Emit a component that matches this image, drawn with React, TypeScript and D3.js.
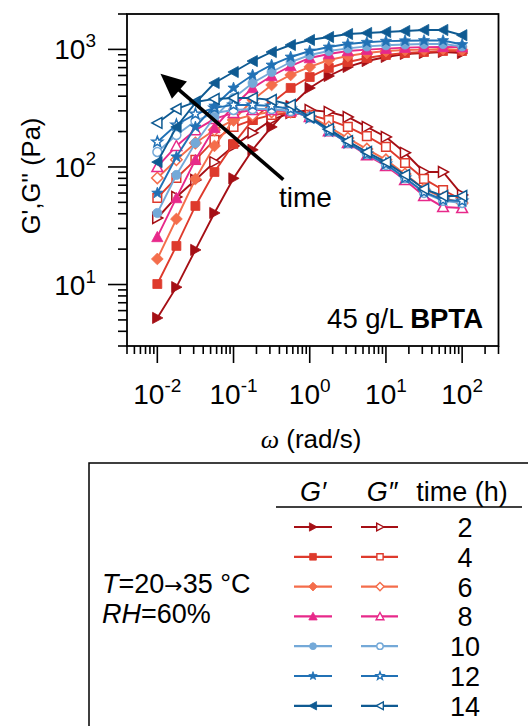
import React from 'react';
import * as d3 from 'd3';

// angular frequency (rad/s)
const omega = [0.01, 0.0178, 0.0316, 0.0562, 0.1, 0.178, 0.316, 0.562, 1, 1.78, 3.16, 5.62, 10, 17.8, 31.6, 56.2, 100];
const timesH = [2, 4, 6, 8, 10, 12, 14];
const seriesColors = ['#a50f15', '#de3a2c', '#f46d4b', '#e7298a', '#74a9d8', '#2171b5', '#0e5a92'];
const markerShapes = ['triRight', 'square', 'diamond', 'triUp', 'circle', 'star', 'triLeft'];

// storage modulus G' (Pa)
const gp2 = [5.2, 9.5, 19.7, 40.6, 80, 140, 219, 330, 470, 594, 709, 796, 862, 914, 931, 950, 931];
const gp4 = [10.1, 21.3, 46.6, 90.6, 157, 251, 350, 470, 582, 695, 781, 845, 896, 931, 950, 969, 969];
const gp6 = [16.5, 36.1, 79, 151, 251, 371, 498, 606, 709, 812, 878, 931, 969, 988, 995, 1008, 990];
const gp8 = [25.4, 54.5, 115, 215, 330, 470, 594, 722, 845, 914, 969, 995, 1015, 1035, 1045, 1050, 1045];
const gp10 = [40.6, 85.5, 160, 266, 386, 518, 642, 781, 896, 969, 1020, 1060, 1085, 1100, 1110, 1110, 1060];
const gp12 = [60, 122, 219, 330, 470, 606, 737, 862, 969, 1048, 1111, 1150, 1175, 1185, 1190, 1190, 1100];
const gp14 = [110, 219, 350, 518, 642, 796, 950, 1090, 1202, 1274, 1352, 1379, 1406, 1433, 1462, 1462, 1320];

// loss modulus G'' (Pa)
const gpp2 = [36.8, 55.6, 77.5, 110, 151, 195, 251, 288, 305, 294, 266, 219, 180, 132, 90.7, 90.7, 57.8];
const gpp4 = [54.5, 80.6, 115, 170, 219, 251, 277, 288, 277, 251, 219, 183, 148, 108, 79.1, 63.7, 52.4];
const gpp6 = [80.6, 115, 160, 206, 251, 277, 294, 294, 272, 219, 176, 142, 115, 87.2, 65, 54.5, 49.4];
const gpp8 = [100, 151, 206, 256, 288, 305, 305, 299, 266, 202, 160, 126, 102, 77.5, 56.7, 45.7, 44.8];
const gpp10 = [134, 187, 246, 288, 305, 311, 311, 299, 266, 202, 160, 129, 104, 80.6, 60.1, 51.4, 49.4];
const gpp12 = [163, 228, 282, 318, 337, 337, 330, 311, 261, 202, 160, 129, 106, 80.6, 61.3, 52.4, 51.4];
const gpp14 = [237, 311, 357, 379, 386, 386, 371, 337, 266, 210, 166, 134, 110, 85.5, 65, 56.7, 56.7];

const gPrimeSets = [gp2, gp4, gp6, gp8, gp10, gp12, gp14];
const gDoubleSets = [gpp2, gpp4, gpp6, gpp8, gpp10, gpp12, gpp14];

const xDomain = [0.004, 300];
const yDomain = [3, 2000];
const xMajorExps = [-2, -1, 0, 1, 2];
const yMajorExps = [1, 2, 3];

// annotation arrow (data coordinates: [omega, modulus])
const arrowFrom = [0.45, 78];
const arrowTo = [0.011, 620];

const FONT = "'Liberation Sans', Arial, sans-serif";

function markerPath(shape: string, r: number): string {
  switch (shape) {
    case 'triUp':
      return `M0,${-r}L${r},${r * 0.85}L${-r},${r * 0.85}Z`;
    case 'triRight':
      return `M${r},0L${-r * 0.85},${-r}L${-r * 0.85},${r}Z`;
    case 'triLeft':
      return `M${-r},0L${r * 0.85},${-r}L${r * 0.85},${r}Z`;
    case 'square': {
      const s = r * 0.8;
      return `M${-s},${-s}L${s},${-s}L${s},${s}L${-s},${s}Z`;
    }
    case 'diamond': {
      const s = r * 1.05;
      return `M0,${-s}L${s},0L0,${s}L${-s},0Z`;
    }
    case 'circle': {
      const c = r * 0.82;
      return `M${c},0A${c},${c} 0 1,1 ${-c},0A${c},${c} 0 1,1 ${c},0Z`;
    }
    case 'star': {
      const outer = r * 1.05;
      const inner = outer * 0.42;
      let p = '';
      for (let k = 0; k < 10; k++) {
        const rad = k % 2 === 0 ? outer : inner;
        const a = -Math.PI / 2 + (k * Math.PI) / 5;
        p += (k === 0 ? 'M' : 'L') + (rad * Math.cos(a)).toFixed(2) + ',' + (rad * Math.sin(a)).toFixed(2);
      }
      return p + 'Z';
    }
  }
  return '';
}

export default function App() {
  const W = 528;
  const H = 726;
  const left = 127, right = 498.5, top = 14, bottom = 346;
  const x = d3.scaleLog().domain(xDomain).range([left, right]);
  const y = d3.scaleLog().domain(yDomain).range([bottom, top]);

  const xTicks = x.ticks();
  const yTicks = y.ticks();
  const isMajor = (v: number) => Math.abs(Math.log10(v) - Math.round(Math.log10(v))) < 1e-6;

  const line = d3
    .line<number>()
    .x((_, i) => x(omega[i]))
    .y((d) => y(d));

  // arrow geometry
  const ax0 = x(arrowFrom[0]), ay0 = y(arrowFrom[1]);
  const ax1 = x(arrowTo[0]), ay1 = y(arrowTo[1]);
  const dx = ax1 - ax0, dy = ay1 - ay0;
  const len = Math.hypot(dx, dy);
  const ux = dx / len, uy = dy / len;
  const headL = 25, headW = 11.5;
  const bx = ax1 - ux * headL, by = ay1 - uy * headL;
  const px = -uy, py = ux;

  const rowY0 = 527;
  const rowStep = 29.8;

  return (
    <svg
      width={W}
      height={H}
      viewBox={`0 0 ${W} ${H}`}
      style={{ position: 'absolute', left: 0, top: 0, background: '#fff' }}
      fontFamily={FONT}
    >
      <rect x={0} y={0} width={W} height={H} fill="#fff" />

      {/* series */}
      {timesH.map((t, si) => {
        const col = seriesColors[si];
        const shp = markerShapes[si];
        const gp = gPrimeSets[si];
        const gpp = gDoubleSets[si];
        return (
          <g key={t}>
            <path d={line(gpp) || ''} fill="none" stroke={col} strokeWidth={1.9} />
            {gpp.map((v, i) => (
              <path
                key={'o' + i}
                d={markerPath(shp, 5.4)}
                transform={`translate(${x(omega[i])},${y(v)})`}
                fill="#fff"
                stroke={col}
                strokeWidth={1.5}
              />
            ))}
            <path d={line(gp) || ''} fill="none" stroke={col} strokeWidth={1.9} />
            {gp.map((v, i) => (
              <path
                key={'f' + i}
                d={markerPath(shp, 5.6)}
                transform={`translate(${x(omega[i])},${y(v)})`}
                fill={col}
                stroke={col}
                strokeWidth={0.8}
              />
            ))}
          </g>
        );
      })}

      {/* arrow */}
      <line x1={ax0} y1={ay0} x2={bx + ux * 2} y2={by + uy * 2} stroke="#000" strokeWidth={3.6} />
      <path
        d={`M${ax1},${ay1}L${bx + px * headW},${by + py * headW}L${bx - px * headW},${by - py * headW}Z`}
        fill="#000"
      />
      <text x={279} y={207} fontSize={28} fill="#000">time</text>

      <text x={483} y={328} fontSize={27.5} textAnchor="end" fill="#000">
        45 g/L <tspan fontWeight="bold">BPTA</tspan>
      </text>

      {/* frame */}
      <rect x={left} y={top} width={right - left} height={bottom - top} fill="none" stroke="#000" strokeWidth={1.8} />

      {/* ticks */}
      {xTicks.map((v, i) => (
        <line
          key={'xt' + i}
          x1={x(v)}
          x2={x(v)}
          y1={bottom}
          y2={bottom + (isMajor(v) ? 17 : 8)}
          stroke="#000"
          strokeWidth={1.6}
        />
      ))}
      {yTicks.map((v, i) => (
        <line
          key={'yt' + i}
          x1={left}
          x2={left - (isMajor(v) ? 19 : 9)}
          y1={y(v)}
          y2={y(v)}
          stroke="#000"
          strokeWidth={1.6}
        />
      ))}
      {xMajorExps.map((e) => (
        <text key={'xl' + e} x={x(Math.pow(10, e))} y={404} fontSize={28} textAnchor="middle" fill="#000">
          10<tspan dy={-12} fontSize={19}>{e}</tspan>
        </text>
      ))}
      {yMajorExps.map((e) => (
        <text key={'yl' + e} x={96} y={y(Math.pow(10, e)) + 10} fontSize={28} textAnchor="end" fill="#000">
          10<tspan dy={-12} fontSize={19}>{e}</tspan>
        </text>
      ))}

      {/* axis titles */}
      <text x={311} y={448} fontSize={26} textAnchor="middle" fill="#000">
        <tspan fontFamily="'Liberation Serif', serif" fontStyle="italic">ω</tspan> (rad/s)
      </text>
      <text
        transform={`translate(40,176) rotate(-90)`}
        fontSize={25.5}
        textAnchor="middle"
        fill="#000"
      >
        G',G'' (Pa)
      </text>

      {/* legend */}
      <rect x={89} y={463} width={470} height={300} fill="none" stroke="#000" strokeWidth={1.5} />
      <text x={313} y={501} fontSize={27} textAnchor="middle" fontStyle="italic">G′</text>
      <text x={382} y={501} fontSize={27} textAnchor="middle" fontStyle="italic">G″</text>
      <text x={462} y={501} fontSize={27} textAnchor="middle">time (h)</text>
      <line x1={276} x2={522} y1={507} y2={507} stroke="#000" strokeWidth={1.5} />
      {timesH.map((t, si) => {
        const cy = rowY0 + si * rowStep;
        const col = seriesColors[si];
        const shp = markerShapes[si];
        return (
          <g key={'lg' + t}>
            <line x1={294} x2={332} y1={cy} y2={cy} stroke={col} strokeWidth={2.2} />
            <path d={markerPath(shp, 4.2)} transform={`translate(313,${cy})`} fill={col} stroke={col} strokeWidth={0.8} />
            <line x1={361} x2={398} y1={cy} y2={cy} stroke={col} strokeWidth={2.2} />
            <path d={markerPath(shp, 3.9)} transform={`translate(380,${cy})`} fill="#fff" stroke={col} strokeWidth={1.4} />
            <text x={465} y={cy + 10} fontSize={27} textAnchor="middle">{t}</text>
          </g>
        );
      })}
      <text x={102} y={593} fontSize={27}>
        <tspan fontStyle="italic">T</tspan>=20<tspan fontFamily="'DejaVu Sans', sans-serif" fontSize={22}>→</tspan>35 °C
      </text>
      <text x={102} y={623} fontSize={27}>
        <tspan fontStyle="italic">RH</tspan>=60%
      </text>
    </svg>
  );
}
